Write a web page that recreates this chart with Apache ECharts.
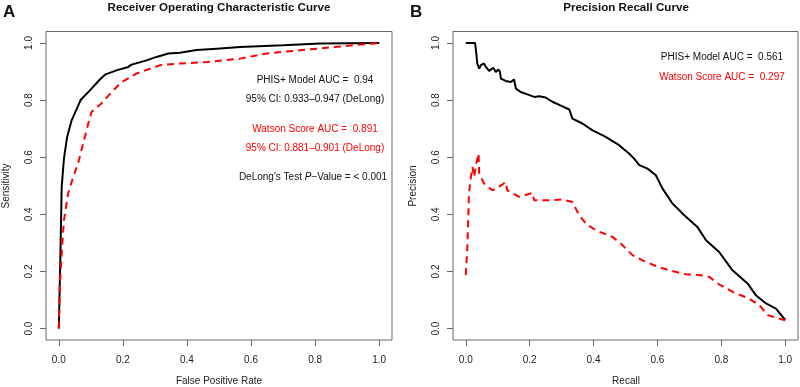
<!DOCTYPE html>
<html><head><meta charset="utf-8">
<script src="https://cdn.jsdelivr.net/npm/echarts@6/dist/echarts.min.js"></script>
<style>html,body{margin:0;padding:0;background:#fff}#c{width:800px;height:387px}</style>
</head><body><div id="c"></div>
<script>
// ---- data ----
const tickValues = [0, 0.2, 0.4, 0.6, 0.8, 1.0];

const rocFprPhis = [0,0.005,0.009,0.016,0.026,0.04,0.068,0.097,0.128,0.146,0.18,0.217,0.227,0.274,0.305,0.342,0.378,0.43,0.493,0.566,0.70,0.816,1];
const rocTprPhis = [0,0.26,0.496,0.595,0.671,0.729,0.80,0.834,0.872,0.890,0.904,0.916,0.924,0.939,0.951,0.963,0.966,0.975,0.980,0.986,0.992,0.998,1];

const rocFprWatson = [0,0.003,0.009,0.016,0.029,0.045,0.06,0.076,0.092,0.102,0.133,0.165,0.196,0.243,0.316,0.378,0.462,0.566,0.649,0.805,1];
const rocTprWatson = [0,0.146,0.263,0.379,0.473,0.531,0.578,0.648,0.718,0.758,0.788,0.828,0.863,0.893,0.922,0.928,0.933,0.945,0.963,0.980,1];

const prRecallPhis = [0,0.029,0.033,0.036,0.042,0.047,0.057,0.063,0.073,0.086,0.094,0.102,0.107,0.11,0.125,0.141,0.151,0.157,0.172,0.193,0.214,0.23,0.25,0.271,0.303,0.324,0.334,0.365,0.397,0.438,0.48,0.511,0.527,0.543,0.569,0.595,0.616,0.647,0.684,0.725,0.752,0.793,0.835,0.882,0.908,0.94,0.971,1];
const prPrecisionPhis = [1,1,0.963,0.928,0.91,0.922,0.928,0.916,0.902,0.913,0.898,0.907,0.899,0.875,0.867,0.863,0.872,0.840,0.828,0.82,0.811,0.813,0.809,0.794,0.778,0.767,0.735,0.718,0.694,0.671,0.642,0.613,0.595,0.572,0.560,0.537,0.490,0.438,0.397,0.356,0.309,0.268,0.204,0.158,0.117,0.088,0.070,0.03];

const prRecallWatson = [0,0.005,0.01,0.016,0.021,0.026,0.033,0.04,0.042,0.057,0.083,0.104,0.125,0.13,0.167,0.209,0.214,0.25,0.303,0.334,0.355,0.376,0.407,0.459,0.485,0.522,0.553,0.595,0.637,0.689,0.736,0.762,0.793,0.84,0.887,0.919,0.945,1];
const prPrecisionWatson = [0.187,0.286,0.473,0.531,0.566,0.531,0.578,0.613,0.543,0.508,0.484,0.496,0.513,0.484,0.461,0.475,0.449,0.449,0.452,0.443,0.397,0.368,0.344,0.321,0.298,0.257,0.239,0.219,0.204,0.190,0.187,0.181,0.155,0.126,0.105,0.082,0.047,0.029];

const rocNotes = [
  {text: 'PHIS+ Model AUC =  0.94', color: '#111'},
  {text: '95% CI: 0.933\u20130.947 (DeLong)', color: '#111'},
  {text: 'Watson Score AUC =  0.891', color: '#f00'},
  {text: '95% CI: 0.881\u20130.901 (DeLong)', color: '#f00'}
];
const prNotes = [
  {text: 'PHIS+ Model AUC =  0.561', color: '#111'},
  {text: 'Watson Score AUC =  0.297', color: '#f00'}
];

// ---- chart ----
const FONT = '"Liberation Sans", Arial, Helvetica, sans-serif';
const zip = (a, b) => a.map((v, i) => [v, b[i]]);
const chart = echarts.init(document.getElementById('c'), null, {renderer: 'canvas'});

function xAx(gi) {
  return {
    type: 'value', gridIndex: gi, min: -0.04, max: 1.04,
    axisLine: {show: false, onZero: false},
    splitLine: {show: false},
    axisTick: {show: true, customValues: tickValues, length: 6, lineStyle: {color: '#666'}},
    axisLabel: {customValues: tickValues, margin: 15, color: '#222', fontSize: 10, fontFamily: FONT,
      formatter: v => v.toFixed(1)}
  };
}
function yAx(gi) {
  return {
    type: 'value', gridIndex: gi, min: -0.04, max: 1.04,
    axisLine: {show: false, onZero: false},
    splitLine: {show: false},
    axisTick: {show: true, customValues: tickValues, length: 6, lineStyle: {color: '#666'}},
    axisLabel: {customValues: tickValues, margin: 12, color: '#222', fontSize: 10, fontFamily: FONT,
      rotate: 90, formatter: v => v.toFixed(1)}
  };
}

const graphics = [];
function txt(x, y, text, opts, rot) {
  graphics.push({type: 'text', x: x, y: y, rotation: rot || 0, style: Object.assign({
    text: text, align: 'center', verticalAlign: 'middle', fill: '#111',
    font: '10px ' + FONT}, opts || {})});
}
txt(219, 8, 'Receiver Operating Characteristic Curve', {font: 'bold 11.6px ' + FONT});
txt(626, 8, 'Precision Recall Curve', {font: 'bold 11.6px ' + FONT});
txt(3, 12, 'A', {font: 'bold 17px ' + FONT, align: 'left'});
txt(410, 12, 'B', {font: 'bold 17px ' + FONT, align: 'left'});
// axis titles
txt(219, 381, 'False Positive Rate', {fill: '#222'});
txt(626, 381, 'Recall', {fill: '#222'});
txt(6, 186, 'Sensitivity', {fill: '#222'}, Math.PI / 2);
txt(413, 186, 'Precision', {fill: '#222'}, Math.PI / 2);
// annotations
const rocY = [80, 99, 129, 148];
rocNotes.forEach((n, i) => txt(315, rocY[i], n.text, {fill: n.color}));
graphics.push({type: 'text', x: 313, y: 177, style: {
  text: "DeLong's Test {i|P}\u2212Value = < 0.001", align: 'center', verticalAlign: 'middle',
  fill: '#111', font: '10px ' + FONT,
  rich: {i: {fontStyle: 'italic', fontSize: 10, fontFamily: FONT, fill: '#111'}}}});
const prY = [57, 77];
prNotes.forEach((n, i) => txt(722, prY[i], n.text, {fill: n.color}));

const blackLine = {color: '#000', width: 2};
const redLine = {color: '#f00', width: 2, type: [7, 5]};

chart.setOption({
  animation: false,
  backgroundColor: '#fff',
  grid: [
    {left: 46, top: 31.5, width: 346, height: 308.5, show: true, borderColor: '#666', borderWidth: 1, backgroundColor: 'transparent', outerBoundsMode: 'none', containLabel: false},
    {left: 453, top: 31.5, width: 345, height: 308.5, show: true, borderColor: '#666', borderWidth: 1, backgroundColor: 'transparent', outerBoundsMode: 'none', containLabel: false}
  ],
  xAxis: [xAx(0), xAx(1)],
  yAxis: [yAx(0), yAx(1)],
  series: [
    {type: 'line', xAxisIndex: 0, yAxisIndex: 0, data: zip(rocFprPhis, rocTprPhis), showSymbol: false, lineStyle: blackLine, z: 2},
    {type: 'line', xAxisIndex: 0, yAxisIndex: 0, data: zip(rocFprWatson, rocTprWatson), showSymbol: false, lineStyle: redLine, z: 3},
    {type: 'line', xAxisIndex: 1, yAxisIndex: 1, data: zip(prRecallPhis, prPrecisionPhis), showSymbol: false, lineStyle: blackLine, z: 2},
    {type: 'line', xAxisIndex: 1, yAxisIndex: 1, data: zip(prRecallWatson, prPrecisionWatson), showSymbol: false, lineStyle: redLine, z: 3}
  ],
  graphic: graphics
});
</script>
</body></html>
